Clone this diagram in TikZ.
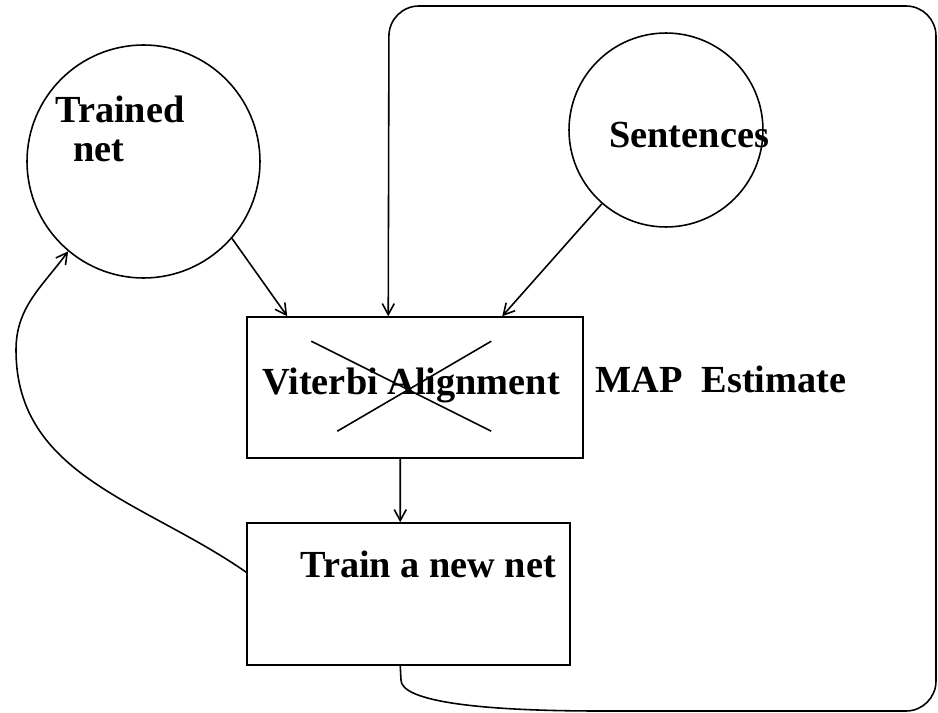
\documentclass[tikz,border=0pt]{standalone}
\usepackage{fontspec}
\setmainfont{Liberation Serif}
\usepackage{tikz}
\usetikzlibrary{arrows.meta,calc}
\tikzset{
  blob/.style={draw, circle, line width=0.9pt, inner sep=0pt},
  stepbox/.style={draw, rectangle, line width=0.9pt, inner sep=0pt},
  flow/.style={-{Straight Barb[length=2.2mm,width=2.4mm]}, line width=0.9pt},
  wire/.style={line width=0.9pt},
  lbl/.style={font=\fontsize{21.8}{24}\selectfont\bfseries, inner sep=0pt, anchor=base west},
}
\begin{document}
\begin{tikzpicture}[x=0.02cm,y=-0.02cm]
\useasboundingbox (0,0) rectangle (938,713);
% sources
\node[blob, minimum size=4.66cm] (trained) at (143.5,161.5) {};
\node[blob, minimum size=3.88cm] (sent) at (666,130) {};
\node[lbl] (trainedA) at (55,123) {Trained};
\node[lbl] (trainedB) at (73,162) {net};
\node[lbl] (senttxt) at (609,148) {Sentences};
% steps
\node[stepbox, minimum width=6.72cm, minimum height=2.82cm] (vit) at (415,387.5) {};
\node[stepbox, minimum width=6.46cm, minimum height=2.84cm] (train) at (408.5,594) {};
\node[lbl] (vittxt) at (262,395) {Viterbi Alignment};
\node[lbl] (maptxt) at (595,393) {MAP\ \ Estimate};
\node[lbl] (traintxt) at (300,578) {Train a new net};
% crossed out
\draw[wire] ($(vit.north west)+(65,25)$) -- ($(vit.north west)+(245,115)$);
\draw[wire] ($(vit.north west)+(91,115)$) -- ($(vit.north west)+(245,25)$);
% arrows
\draw[flow] (trained.-41) -- ($(vit.north west)+(41,0)$);
\draw[flow] (sent.-131) -- ($(vit.north west)+(256,0)$);
\draw[flow] ($(vit.south west)+(154,0)$) -- ($(train.north west)+(154,0)$);
\draw[flow] ($(train.north west)+(0,50)$) .. controls (144,501) and (16,476) .. (16,350)
  .. controls (16,307) and (42,287) .. (trained.230);
\draw[flow] ($(train.south west)+(154,0)$) -- (401,680) .. controls (401,700) and (470,711) .. (600,711)
  [rounded corners=0.6cm] -- (936,711) -- (936,6) -- (389,6) -- ($(vit.north west)+(142,0)$);
\end{tikzpicture}
\end{document}
